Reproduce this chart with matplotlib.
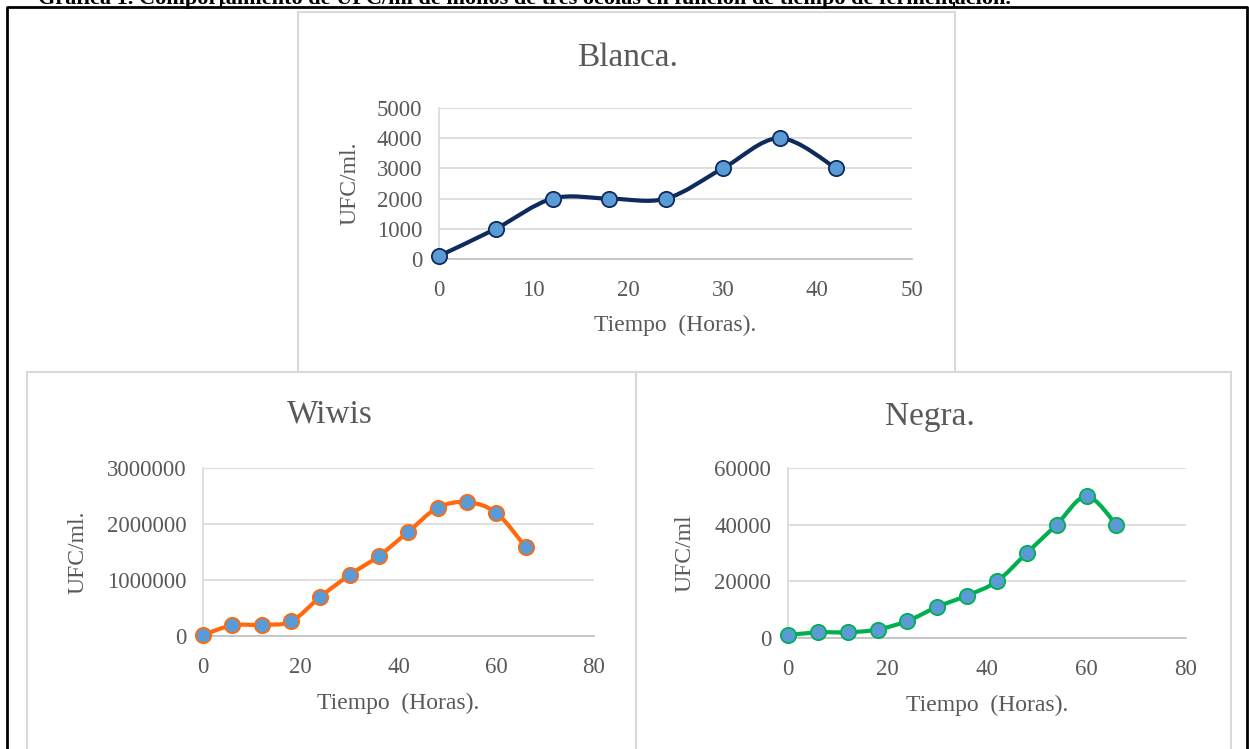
import matplotlib
matplotlib.use("Agg")
from matplotlib import pyplot as plt
from matplotlib.path import Path
from matplotlib.patches import PathPatch, Rectangle
from matplotlib.ticker import FormatStrFormatter
import numpy as np

W, H = 1249, 749

plt.rcParams['font.family'] = ['Liberation Serif', 'DejaVu Serif']

CAPTION = "Gráfica 1. Comportamiento de UFC/ml de mohos de tres ocolas en función de tiempo de fermentación."
XLABEL = "Tiempo  (Horas)."

# Blanca
horas_blanca = [0, 6, 12, 18, 24, 30, 36, 42]
ufc_blanca = [100, 1000, 2000, 2000, 2000, 3000, 4000, 3000]

# Wiwis
horas_wiwis = [0, 6, 12, 18, 24, 30, 36, 42, 48, 54, 60, 66]
ufc_wiwis = [20000, 190000, 200000, 260000, 700000, 1090000, 1430000,
             1860000, 2290000, 2390000, 2200000, 1590000]

# Negra
horas_negra = [0, 6, 12, 18, 24, 30, 36, 42, 48, 54, 60, 66]
ufc_negra = [1000, 2000, 2000, 3000, 6000, 11000, 15000, 20000,
             30000, 40000, 50000, 40000]

TEXT = '#595959'
GRID = '#d9d9d9'
MARKER = '#5b9bd5'


def px(x0, y0, x1, y1):
    # pixel box (top-left origin) -> figure fraction rect
    return [x0 / W, 1 - y1 / H, (x1 - x0) / W, (y1 - y0) / H]


def smoothPath(xs, ys):
    # Excel-like smoothed line through the points (Catmull-Rom as cubic beziers)
    xs = np.asarray(xs, float)
    ys = np.asarray(ys, float)
    n = len(xs)
    verts = [(xs[0], ys[0])]
    codes = [Path.MOVETO]
    for i in range(n - 1):
        p0 = max(i - 1, 0)
        p3 = min(i + 2, n - 1)
        c1 = (xs[i] + (xs[i + 1] - xs[p0]) / 6, ys[i] + (ys[i + 1] - ys[p0]) / 6)
        c2 = (xs[i + 1] - (xs[p3] - xs[i]) / 6, ys[i + 1] - (ys[p3] - ys[i]) / 6)
        verts += [c1, c2, (xs[i + 1], ys[i + 1])]
        codes += [Path.CURVE4] * 3
    return Path(verts, codes)


def drawChart(fig, rect, xs, ys, color, title, ylabel, xmax, xstep, ymax, ystep,
              title_xy, ylabel_x, xlabel_y):
    ax = fig.add_axes(rect)
    ax.set_xlim(0, xmax)
    ax.set_ylim(0, ymax)
    ax.set_xticks(np.arange(0, xmax + 1, xstep))
    ax.set_yticks(np.arange(0, ymax + 1, ystep))
    ax.yaxis.set_major_formatter(FormatStrFormatter('%d'))
    ax.grid(axis='y', color=GRID, linewidth=1.2)
    ax.set_axisbelow(True)
    for s in ['top', 'right']:
        ax.spines[s].set_visible(False)
    ax.spines['left'].set_color(GRID)
    ax.spines['bottom'].set_color('#bfbfbf')
    ax.spines['left'].set_linewidth(1.2)
    ax.spines['bottom'].set_linewidth(1.2)
    ax.tick_params(length=0, labelsize=16.5, labelcolor=TEXT)
    ax.tick_params(axis='x', pad=15)
    ax.tick_params(axis='y', pad=12)
    ax.patch.set_alpha(0)

    ax.add_patch(PathPatch(smoothPath(xs, ys), facecolor='none', edgecolor=color,
                           linewidth=3, clip_on=False, zorder=3))
    ax.plot(xs, ys, linestyle='none', marker='o', markersize=11,
            markerfacecolor=MARKER, markeredgecolor=color, markeredgewidth=1.3,
            clip_on=False, zorder=4)

    fig.text(title_xy[0] / W, 1 - title_xy[1] / H, title, fontsize=24, color=TEXT,
             ha='center', va='center')
    cy = rect[1] + rect[3] / 2
    fig.text(ylabel_x / W, cy, ylabel, fontsize=17,
             color=TEXT, rotation=90, ha='center', va='center')
    cx = rect[0] + rect[2] / 2
    fig.text(cx, 1 - xlabel_y / H, XLABEL, fontsize=17, color=TEXT,
             ha='center', va='center')
    return ax


fig = plt.figure(figsize=(W / 100, H / 100), dpi=100)

# page frame and chart boxes
frame = fig.add_axes([0, 0, 1, 1])
frame.set_xlim(0, W)
frame.set_ylim(H, 0)
frame.axis('off')
frame.plot([7, 7, 1247, 1247], [H + 5, 7, 7, H + 5], color='black', linewidth=2)
frame.plot([221, 221], [3, 7], color='black', linewidth=1.5)
frame.plot([954, 954], [3, 7], color='black', linewidth=1.5)
for x0, y0, x1, y1 in [(298, 12, 955, 372), (27, 372, 636, 760), (636, 372, 1231, 760)]:
    frame.add_patch(Rectangle((x0, y0), x1 - x0, y1 - y0, facecolor='white',
                              edgecolor=GRID, linewidth=1.5))
frame.text(525, 4, CAPTION, fontsize=16, fontweight='bold', ha='center', va='baseline')

drawChart(fig, px(439, 108, 912, 259), horas_blanca, ufc_blanca, '#0f2a5c',
          'Blanca.', 'UFC/ml.', 50, 10, 5000, 1000, (628, 58), 350, 325)
drawChart(fig, px(203, 468, 594, 636), horas_wiwis, ufc_wiwis, '#ff6a0d',
          'Wiwis', 'UFC/ml.', 80, 20, 3000000, 1000000, (330, 414), 78, 703)
drawChart(fig, px(788, 468, 1186, 638), horas_negra, ufc_negra, '#00b050',
          'Negra.', 'UFC/ml', 80, 20, 60000, 20000, (930, 417), 685, 705)

fig.savefig('out.png', dpi=100)
